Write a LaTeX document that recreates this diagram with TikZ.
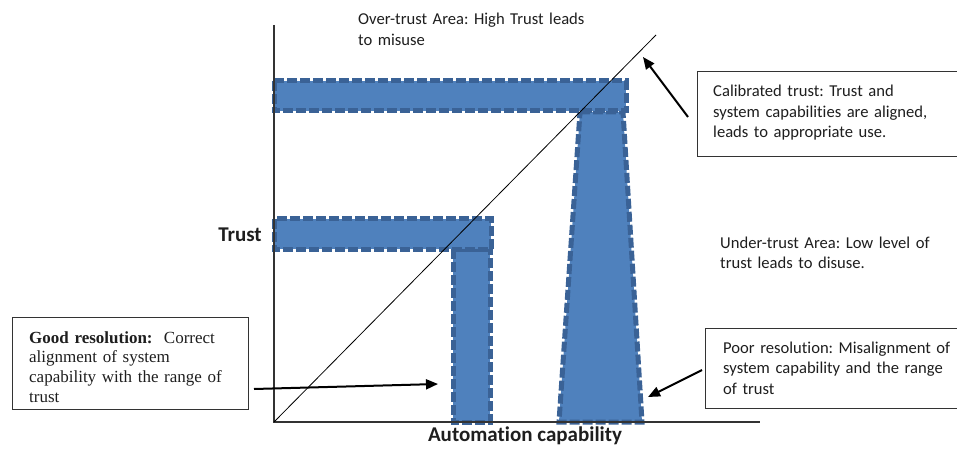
\documentclass[tikz,border=0pt]{standalone}
\usepackage{fontspec}
\setmainfont{Carlito}[Ligatures={NoCommon}]
\newfontfamily\seriffont{Liberation Serif}
\usetikzlibrary{arrows.meta}
\definecolor{barfill}{HTML}{4F81BD}
\definecolor{barline}{HTML}{3A6296}
\definecolor{txt}{HTML}{1E1E1E}
\frenchspacing
\begin{document}
\begin{tikzpicture}[x=1pt,y=-1pt,
  bar/.style={fill=barfill, draw=barline, line width=5pt, dash pattern=on 10pt off 3pt, line join=miter},
  boxframe/.style={draw=black!80, line width=1.2pt, inner sep=0pt, anchor=north west},
  lbl/.style={inner sep=0pt, anchor=base west, align=left, text=txt, font=\fontsize{16.6}{20.5}\selectfont},
  slbl/.style={inner sep=0pt, anchor=base west, align=left, text=txt, font=\seriffont\fontsize{17}{19.7}\selectfont},
  axlbl/.style={inner sep=0pt, anchor=base, text=txt, font=\bfseries\fontsize{21}{24}\selectfont},
  arr/.style={draw=black, -{Triangle[length=12pt,width=10pt]}, line width=2pt},
  axisline/.style={draw=black!80, line width=1.3pt}]
\useasboundingbox (0,0) rectangle (957,454);
\clip (0,0) rectangle (957,454);
% bars
\draw[bar] (580,112) -- (623,112) -- (642,422) -- (559,422) -- cycle;
\draw[bar] (274,81) rectangle (626,111);
\draw[bar] (453,249) rectangle (490,422);
\draw[bar] (274,219) rectangle (491,249);
% axes
\coordinate (origin) at (274,422);
\coordinate (ytop) at (274,25);
\coordinate (xend) at (760,422);
\coordinate (diagend) at (656,35);
\draw[axisline] (ytop) -- (origin) -- (xend);
\draw[black, line width=0.8pt] (origin) -- (diagend);
% axis labels
\node[axlbl] (ylab) at (240,241) {Trust};
\node[axlbl] (xlab) at (525,441) {Automation capability};
% area texts
\node[lbl, text width=260pt] (over) at (358,25) {Over-trust Area: High Trust leads\\to misuse};
\node[lbl, text width=230pt] (under) at (720,248) {Under-trust Area: Low level of\\trust leads to disuse.};
% boxes
\node[boxframe, minimum width=270pt, minimum height=85pt] (calbox) at (697,71) {};
\node[lbl, text width=240pt] (caltext) at (713,97) {Calibrated trust: Trust and\\system capabilities are aligned,\\leads to appropriate use.};
\node[boxframe, minimum width=236pt, minimum height=92pt] (goodbox) at (12,317) {};
\node[slbl, text width=215pt] (goodtext) at (29,343) {\textbf{Good resolution:}\ \ Correct\\alignment of system\\capability with the range of\\trust};
\node[boxframe, minimum width=262pt, minimum height=80pt] (poorbox) at (705,328) {};
\node[lbl, text width=240pt] (poortext) at (723,353) {Poor resolution: Misalignment of\\system capability and the range\\of trust};
% arrows
\coordinate (calfrom) at (688,117);
\coordinate (calto) at (643,57);
\coordinate (goodfrom) at (254,389);
\coordinate (goodto) at (438,384);
\coordinate (poorfrom) at (702,370);
\coordinate (poorto) at (648,397);
\draw[arr] (calfrom) -- (calto);
\draw[arr] (goodfrom) -- (goodto);
\draw[arr] (poorfrom) -- (poorto);
\end{tikzpicture}
\end{document}
